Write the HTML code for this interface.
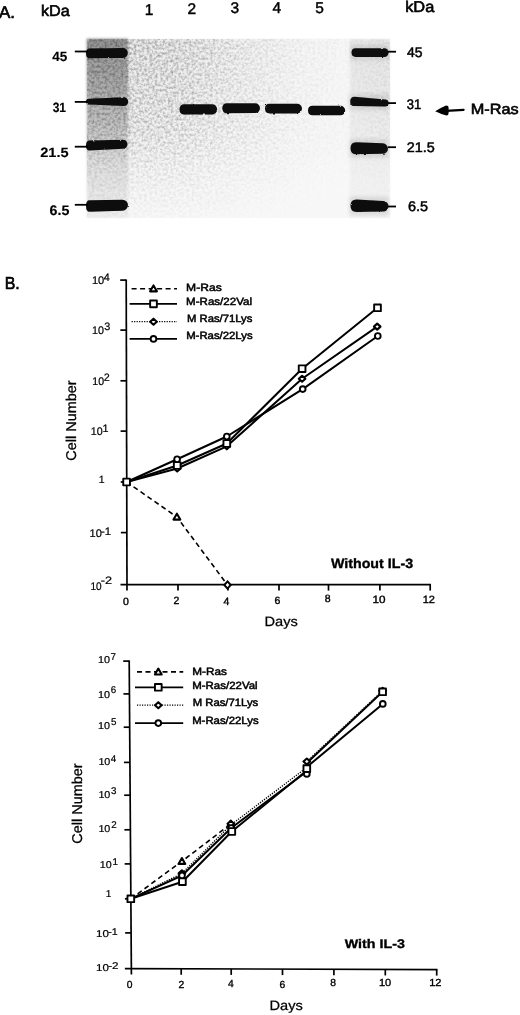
<!DOCTYPE html>
<html><head><meta charset="utf-8"><style>
html,body{margin:0;padding:0;background:#fff;}
body{width:520px;height:1015px;overflow:hidden;font-family:"Liberation Sans",sans-serif;}
svg{display:block;will-change:transform;}
text{text-rendering:geometricPrecision;}
</style></head><body>
<svg width="520" height="1015" viewBox="0 0 520 1015">
<defs>
<filter id="nz" x="0" y="0" width="100%" height="100%"><feTurbulence type="fractalNoise" baseFrequency="0.38" numOctaves="2" seed="11"/><feColorMatrix type="matrix" values="0 0 0 0 0  0 0 0 0 0  0 0 0 0 0  1.5 0 0 0 -0.55"/><feGaussianBlur stdDeviation="0.45"/></filter>
<linearGradient id="hm" x1="0" x2="1" y1="0" y2="0"><stop offset="0" stop-color="#fff" stop-opacity="1"/><stop offset="0.3" stop-color="#fff" stop-opacity="0.9"/><stop offset="0.5" stop-color="#fff" stop-opacity="0.5"/><stop offset="0.7" stop-color="#fff" stop-opacity="0.2"/><stop offset="0.85" stop-color="#fff" stop-opacity="0.1"/><stop offset="1" stop-color="#fff" stop-opacity="0.25"/></linearGradient>
<mask id="mk" maskUnits="userSpaceOnUse" x="86.5" y="38.5" width="303.5" height="179.5"><rect x="86.5" y="38.5" width="303.5" height="179.5" fill="url(#hm)"/></mask>
<linearGradient id="vg" x1="0" x2="0" y1="0" y2="1"><stop offset="0" stop-color="#000" stop-opacity="0.055"/><stop offset="0.45" stop-color="#000" stop-opacity="0.035"/><stop offset="0.7" stop-color="#000" stop-opacity="0.01"/><stop offset="1" stop-color="#000" stop-opacity="0.0"/></linearGradient>
<linearGradient id="vn" x1="0" x2="0" y1="0" y2="1"><stop offset="0" stop-color="#fff" stop-opacity="1"/><stop offset="0.5" stop-color="#fff" stop-opacity="0.8"/><stop offset="0.8" stop-color="#fff" stop-opacity="0.3"/><stop offset="1" stop-color="#fff" stop-opacity="0.1"/></linearGradient>
<mask id="mk2" maskUnits="userSpaceOnUse" x="86.5" y="38.5" width="303.5" height="179.5"><rect x="86.5" y="38.5" width="303.5" height="179.5" fill="url(#vn)"/></mask>
<linearGradient id="lm" x1="0" x2="0" y1="0" y2="1"><stop offset="0" stop-color="#000" stop-opacity="0.36"/><stop offset="0.25" stop-color="#000" stop-opacity="0.28"/><stop offset="0.5" stop-color="#000" stop-opacity="0.18"/><stop offset="0.7" stop-color="#000" stop-opacity="0.09"/><stop offset="1" stop-color="#000" stop-opacity="0.04"/></linearGradient>
<linearGradient id="rm" x1="0" x2="0" y1="0" y2="1"><stop offset="0" stop-color="#000" stop-opacity="0.06"/><stop offset="0.5" stop-color="#000" stop-opacity="0.04"/><stop offset="1" stop-color="#000" stop-opacity="0.02"/></linearGradient>
<filter id="bl" x="-20%" y="-20%" width="140%" height="140%"><feGaussianBlur stdDeviation="1.2"/></filter>
<filter id="bb" x="-10%" y="-50%" width="120%" height="200%"><feTurbulence type="fractalNoise" baseFrequency="0.3" numOctaves="2" seed="4" result="t"/><feDisplacementMap in="SourceGraphic" in2="t" scale="2.0" xChannelSelector="R" yChannelSelector="G" result="d"/><feGaussianBlur in="d" stdDeviation="0.75"/></filter><filter id="hb" x="-30%" y="-100%" width="160%" height="300%"><feGaussianBlur stdDeviation="2.2"/></filter>
</defs>
<rect x="86.5" y="38.5" width="303.5" height="179.5" fill="#f8f8f8"/>
<g mask="url(#mk)"><rect x="86.5" y="38.5" width="303.5" height="179.5" fill="url(#vg)"/></g>
<g filter="url(#bl)"><rect x="86.5" y="38.5" width="41.5" height="179.5" fill="url(#lm)"/>
<rect x="350" y="39.5" width="40" height="178.5" fill="url(#rm)"/></g>
<g mask="url(#mk)"><g mask="url(#mk2)"><rect x="86.5" y="38.5" width="303.5" height="179.5" filter="url(#nz)" opacity="0.5"/></g></g>
<rect x="350.5" y="45.300000000000004" width="38.10000000000002" height="14.6" fill="#000" opacity="0.10" filter="url(#hb)"/>
<rect x="349.2" y="94.5" width="39.400000000000034" height="15.4" fill="#000" opacity="0.10" filter="url(#hb)"/>
<rect x="349.5" y="139.39999999999998" width="38.5" height="18.0" fill="#000" opacity="0.10" filter="url(#hb)"/>
<rect x="349.5" y="196.7" width="39.0" height="18.5" fill="#000" opacity="0.10" filter="url(#hb)"/>
<path d="M89.5,48.6 L122.89999999999999,48.1 A4.9,4.9 0 0 1 122.89999999999999,57.9 L89.5,58.199999999999996 Q86.0,58.199999999999996 86.0,53.4 Q86.0,48.6 89.5,48.6 Z" fill="#0a0a0a" filter="url(#bb)"/>
<path d="M88.8,98.8 L123.79999999999998,97.19999999999999 A4.4,4.4 0 0 1 123.79999999999998,106.0 L88.8,104.39999999999999 Q86.0,104.39999999999999 86.0,101.6 Q86.0,98.8 88.8,98.8 Z" fill="#0a0a0a" filter="url(#bb)"/>
<path d="M89.5,140.6 L123.0,139.7 A4.5,4.5 0 0 1 123.0,148.7 L89.5,150.6 Q86.0,150.6 86.0,145.6 Q86.0,140.6 89.5,140.6 Z" fill="#0a0a0a" filter="url(#bb)"/>
<path d="M89.5,200.2 L122.5,199.7 A5.5,5.5 0 0 1 122.5,210.7 L89.5,211.8 Q86.0,211.8 86.0,206.0 Q86.0,200.2 89.5,200.2 Z" fill="#0a0a0a" filter="url(#bb)"/>
<path d="M355.585,48.300000000000004 L384.3,48.300000000000004 A4.3,4.3 0 0 1 384.3,56.9 L355.585,56.9 Q351.5,56.9 351.5,52.6 Q351.5,48.300000000000004 355.585,48.300000000000004 Z" fill="#0a0a0a" filter="url(#bb)"/>
<path d="M354.66499999999996,96.7 L385.1,99.5 A3.5,3.5 0 0 1 385.1,106.5 L354.66499999999996,106.10000000000001 Q350.2,106.10000000000001 350.2,101.4 Q350.2,96.7 354.66499999999996,96.7 Z" fill="#0a0a0a" filter="url(#bb)"/>
<path d="M356.2,142.2 L382.75,143.35 A5.25,5.25 0 0 1 382.75,153.85 L356.2,154.2 Q350.5,154.2 350.5,148.2 Q350.5,142.2 356.2,142.2 Z" fill="#0a0a0a" filter="url(#bb)"/>
<path d="M356.4375,199.45 L383.25,200.95 A5.25,5.25 0 0 1 383.25,211.45 L356.4375,211.95 Q350.5,211.95 350.5,205.7 Q350.5,199.45 356.4375,199.45 Z" fill="#0a0a0a" filter="url(#bb)"/>
<path d="M184.3925,104.25 L212.14999999999998,104.35000000000001 A5.05,5.05 0 0 1 212.14999999999998,114.45 L184.3925,114.55000000000001 Q179.5,114.55000000000001 179.5,109.4 Q179.5,104.25 184.3925,104.25 Z" fill="#0a0a0a" filter="url(#bb)"/>
<path d="M227.0025,103.25 L255.15,103.35000000000001 A4.85,4.85 0 0 1 255.15,113.05 L227.0025,113.15 Q222.3,113.15 222.3,108.2 Q222.3,103.25 227.0025,103.25 Z" fill="#0a0a0a" filter="url(#bb)"/>
<path d="M269.6075,103.75 L297.15,103.75 A4.85,4.85 0 0 1 297.15,113.44999999999999 L269.6075,113.44999999999999 Q265,113.44999999999999 265,108.6 Q265,103.75 269.6075,103.75 Z" fill="#0a0a0a" filter="url(#bb)"/>
<path d="M312.5125,105.65 L340.45,105.85 A4.75,4.75 0 0 1 340.45,115.35 L312.5125,115.15 Q308,115.15 308,110.4 Q308,105.65 312.5125,105.65 Z" fill="#0a0a0a" filter="url(#bb)"/>
<line x1="74.8" y1="51.5" x2="88" y2="51.5" stroke="#000" stroke-width="1.8"/>
<line x1="74.8" y1="101.9" x2="88" y2="101.9" stroke="#000" stroke-width="1.8"/>
<line x1="74.8" y1="146.7" x2="88" y2="146.7" stroke="#000" stroke-width="1.8"/>
<line x1="74.8" y1="204.8" x2="88" y2="204.8" stroke="#000" stroke-width="1.8"/>
<line x1="388" y1="51.7" x2="396" y2="51.7" stroke="#000" stroke-width="1.8"/>
<line x1="388" y1="103.1" x2="396" y2="103.1" stroke="#000" stroke-width="1.8"/>
<line x1="388" y1="147.2" x2="396" y2="147.2" stroke="#000" stroke-width="1.8"/>
<line x1="388" y1="206.5" x2="396" y2="206.5" stroke="#000" stroke-width="1.8"/>
<line x1="446" y1="110.9" x2="463.6" y2="109.9" stroke="#000" stroke-width="2.2" stroke-linecap="round"/>
<path d="M435.2 111.2 Q440 108.2 446 105.6 Q448.6 105.6 448.6 108 L448.6 113 Q448.6 115.6 446.5 115.6 Q440 113.6 435.2 111.2 Z" fill="#000"/>
<line x1="126.2" y1="279.5" x2="127.0" y2="590.6" stroke="#000" stroke-width="1.7"/>
<line x1="120.5" y1="584.6" x2="431.0" y2="584.6" stroke="#000" stroke-width="1.7"/>
<line x1="120.2015732546706" y1="280.1" x2="126.2015732546706" y2="280.1" stroke="#000" stroke-width="1.7"/>
<line x1="120.33267781055392" y1="330.1" x2="126.33267781055392" y2="330.1" stroke="#000" stroke-width="1.7"/>
<line x1="120.4656178302196" y1="380.8" x2="126.4656178302196" y2="380.8" stroke="#000" stroke-width="1.7"/>
<line x1="120.59750901343821" y1="431.1" x2="126.59750901343821" y2="431.1" stroke="#000" stroke-width="1.7"/>
<line x1="120.73097345132743" y1="482" x2="126.73097345132743" y2="482" stroke="#000" stroke-width="1.7"/>
<line x1="120.86365126188134" y1="532.6" x2="126.86365126188134" y2="532.6" stroke="#000" stroke-width="1.7"/>
<line x1="178" y1="584.6" x2="178" y2="590.6" stroke="#000" stroke-width="1.7"/>
<line x1="228" y1="584.6" x2="228" y2="590.6" stroke="#000" stroke-width="1.7"/>
<line x1="279" y1="584.6" x2="279" y2="590.6" stroke="#000" stroke-width="1.7"/>
<line x1="328.5" y1="584.6" x2="328.5" y2="590.6" stroke="#000" stroke-width="1.7"/>
<line x1="379.9" y1="584.6" x2="379.9" y2="590.6" stroke="#000" stroke-width="1.7"/>
<line x1="430.2" y1="584.6" x2="430.2" y2="590.6" stroke="#000" stroke-width="1.7"/>
<line x1="131.6" y1="288.75" x2="177" y2="288.75" stroke="#000" stroke-width="1.6" stroke-dasharray="5,3.5"/>
<path d="M153.5,285.45 L156.9,291.35 L150.1,291.35 Z" fill="#fff" stroke="#000" stroke-width="2.1" stroke-linejoin="round"/>
<line x1="129.6" y1="303.9" x2="177" y2="303.9" stroke="#000" stroke-width="1.8" />
<rect x="150.15" y="300.54999999999995" width="6.7" height="6.7" fill="#fff" stroke="#000" stroke-width="1.9" stroke-linejoin="round"/>
<line x1="131.6" y1="321.7" x2="177" y2="321.7" stroke="#000" stroke-width="1.3" stroke-dasharray="1.2,1.3"/>
<path d="M153.5,318.7 L156.8,321.7 L153.5,324.7 L150.2,321.7 Z" fill="#fff" stroke="#000" stroke-width="2.1" stroke-linejoin="round"/>
<line x1="129.6" y1="338.9" x2="177" y2="338.9" stroke="#000" stroke-width="1.8" />
<circle cx="153.5" cy="338.9" r="2.85" fill="#fff" stroke="#000" stroke-width="1.9"/>
<polyline points="126.6,482 176.9,517.0 227.5,585.0" fill="none" stroke="#000" stroke-width="1.6" stroke-dasharray="5,3.5" stroke-linejoin="round"/>
<polyline points="126.6,482 177.2,468.5 226.8,446.3 302.1,378.75 377.2,326.6" fill="none" stroke="#000" stroke-width="2.0"  stroke-linejoin="round"/>
<polyline points="126.6,482 177.2,465.5 226.8,443.5 302.1,368.7 377.5,307.8" fill="none" stroke="#000" stroke-width="2.0"  stroke-linejoin="round"/>
<polyline points="126.6,482 177.1,459.25 226.8,436.5 302.7,389.1 377.8,336.0" fill="none" stroke="#000" stroke-width="2.0"  stroke-linejoin="round"/>
<path d="M176.9,513.7 L180.3,519.6 L173.5,519.6 Z" fill="#fff" stroke="#000" stroke-width="2.1" stroke-linejoin="round"/>
<path d="M227.5,581.4 L230.7,585.0 L227.5,588.6 L224.3,585.0 Z" fill="#fff" stroke="#000" stroke-width="2"/>
<path d="M177.2,465.5 L180.5,468.5 L177.2,471.5 L173.89999999999998,468.5 Z" fill="#fff" stroke="#000" stroke-width="2.1" stroke-linejoin="round"/>
<path d="M226.8,443.3 L230.10000000000002,446.3 L226.8,449.3 L223.5,446.3 Z" fill="#fff" stroke="#000" stroke-width="2.1" stroke-linejoin="round"/>
<path d="M302.1,375.75 L305.40000000000003,378.75 L302.1,381.75 L298.8,378.75 Z" fill="#fff" stroke="#000" stroke-width="2.1" stroke-linejoin="round"/>
<path d="M377.2,323.6 L380.5,326.6 L377.2,329.6 L373.9,326.6 Z" fill="#fff" stroke="#000" stroke-width="2.1" stroke-linejoin="round"/>
<rect x="173.85" y="462.15" width="6.7" height="6.7" fill="#fff" stroke="#000" stroke-width="1.9" stroke-linejoin="round"/>
<rect x="223.45000000000002" y="440.15" width="6.7" height="6.7" fill="#fff" stroke="#000" stroke-width="1.9" stroke-linejoin="round"/>
<rect x="298.75" y="365.34999999999997" width="6.7" height="6.7" fill="#fff" stroke="#000" stroke-width="1.9" stroke-linejoin="round"/>
<rect x="374.15" y="304.45" width="6.7" height="6.7" fill="#fff" stroke="#000" stroke-width="1.9" stroke-linejoin="round"/>
<circle cx="177.1" cy="459.25" r="2.85" fill="#fff" stroke="#000" stroke-width="1.9"/>
<circle cx="226.8" cy="436.5" r="2.85" fill="#fff" stroke="#000" stroke-width="1.9"/>
<circle cx="302.7" cy="389.1" r="2.85" fill="#fff" stroke="#000" stroke-width="1.9"/>
<circle cx="377.8" cy="336.0" r="2.85" fill="#fff" stroke="#000" stroke-width="1.9"/>
<rect x="123.25" y="478.65" width="6.7" height="6.7" fill="#fff" stroke="#000" stroke-width="1.9" stroke-linejoin="round"/>
<line x1="129.2" y1="660.5" x2="131.4" y2="974.6" stroke="#000" stroke-width="1.7"/>
<line x1="124.9" y1="968.6" x2="437.5" y2="969.6" stroke="#000" stroke-width="1.7"/>
<line x1="123.20428432327165" y1="661.1" x2="129.20428432327165" y2="661.1" stroke="#000" stroke-width="1.7"/>
<line x1="123.43849399545601" y1="693.9" x2="129.438493995456" y2="693.9" stroke="#000" stroke-width="1.7"/>
<line x1="123.67627393703341" y1="727.2" x2="129.67627393703341" y2="727.2" stroke="#000" stroke-width="1.7"/>
<line x1="123.92762090230445" y1="762.4" x2="129.92762090230445" y2="762.4" stroke="#000" stroke-width="1.7"/>
<line x1="124.16183057448879" y1="795.2" x2="130.1618305744888" y2="795.2" stroke="#000" stroke-width="1.7"/>
<line x1="124.40889321648814" y1="829.8" x2="130.40889321648814" y2="829.8" stroke="#000" stroke-width="1.7"/>
<line x1="124.65238558909445" y1="863.9" x2="130.65238558909445" y2="863.9" stroke="#000" stroke-width="1.7"/>
<line x1="124.90159039272964" y1="898.8" x2="130.90159039272964" y2="898.8" stroke="#000" stroke-width="1.7"/>
<line x1="125.14508276533593" y1="932.9" x2="131.14508276533593" y2="932.9" stroke="#000" stroke-width="1.7"/>
<line x1="181.2" y1="968.7631182443498" x2="181.2" y2="974.7631182443498" stroke="#000" stroke-width="1.7"/>
<line x1="231.2" y1="968.9268915820504" x2="231.2" y2="974.9268915820504" stroke="#000" stroke-width="1.7"/>
<line x1="282.5" y1="969.0949230265313" x2="282.5" y2="975.0949230265313" stroke="#000" stroke-width="1.7"/>
<line x1="333.9" y1="969.2632820176875" x2="333.9" y2="975.2632820176875" stroke="#000" stroke-width="1.7"/>
<line x1="385.3" y1="969.4316410088438" x2="385.3" y2="975.4316410088438" stroke="#000" stroke-width="1.7"/>
<line x1="436.7" y1="969.6" x2="436.7" y2="975.6" stroke="#000" stroke-width="1.7"/>
<line x1="137.0" y1="671.9" x2="183.2" y2="671.9" stroke="#000" stroke-width="1.6" stroke-dasharray="5,3.5"/>
<path d="M158.3,668.6 L161.70000000000002,674.5 L154.9,674.5 Z" fill="#fff" stroke="#000" stroke-width="2.1" stroke-linejoin="round"/>
<line x1="135.0" y1="687.3" x2="183.2" y2="687.3" stroke="#000" stroke-width="1.8" />
<rect x="154.95000000000002" y="683.9499999999999" width="6.7" height="6.7" fill="#fff" stroke="#000" stroke-width="1.9" stroke-linejoin="round"/>
<line x1="137.0" y1="705.2" x2="183.2" y2="705.2" stroke="#000" stroke-width="1.3" stroke-dasharray="1.2,1.3"/>
<path d="M158.3,702.2 L161.60000000000002,705.2 L158.3,708.2 L155.0,705.2 Z" fill="#fff" stroke="#000" stroke-width="2.1" stroke-linejoin="round"/>
<line x1="135.0" y1="723.1" x2="183.2" y2="723.1" stroke="#000" stroke-width="1.8" />
<circle cx="158.3" cy="723.1" r="2.85" fill="#fff" stroke="#000" stroke-width="1.9"/>
<polyline points="130.8,898.8 181.9,861.3 230.8,824.0" fill="none" stroke="#000" stroke-width="1.6" stroke-dasharray="5,3.5" stroke-linejoin="round"/>
<polyline points="130.8,898.8 181.9,873.4 230.8,825.0 306.8,767.5 306.8,761.5 382.6,690.8" fill="none" stroke="#000" stroke-width="1.4" stroke-dasharray="1.2,1.3" stroke-linejoin="round"/>
<polyline points="130.8,898.8 182.0,875.5 231.2,828.0 306.8,771.5 306.8,767.0 382.8,703.9" fill="none" stroke="#000" stroke-width="2.0"  stroke-linejoin="round"/>
<polyline points="130.8,898.8 182.4,881.7 231.8,831.5 306.8,770.5 306.8,763.0 382.6,691.8" fill="none" stroke="#000" stroke-width="2.0"  stroke-linejoin="round"/>
<path d="M181.9,858.0 L185.3,863.9 L178.5,863.9 Z" fill="#fff" stroke="#000" stroke-width="2.1" stroke-linejoin="round"/>
<path d="M230.8,820.7 L234.20000000000002,826.6 L227.4,826.6 Z" fill="#fff" stroke="#000" stroke-width="2.1" stroke-linejoin="round"/>
<path d="M181.9,870.4 L185.20000000000002,873.4 L181.9,876.4 L178.6,873.4 Z" fill="#fff" stroke="#000" stroke-width="2.1" stroke-linejoin="round"/>
<path d="M230.8,820.8 L234.10000000000002,823.8 L230.8,826.8 L227.5,823.8 Z" fill="#fff" stroke="#000" stroke-width="2.1" stroke-linejoin="round"/>
<path d="M306.8,758.5 L310.1,761.5 L306.8,764.5 L303.5,761.5 Z" fill="#fff" stroke="#000" stroke-width="2.1" stroke-linejoin="round"/>
<path d="M382.6,687.8 L385.90000000000003,690.8 L382.6,693.8 L379.3,690.8 Z" fill="#fff" stroke="#000" stroke-width="2.1" stroke-linejoin="round"/>
<circle cx="182.0" cy="875.5" r="2.85" fill="#fff" stroke="#000" stroke-width="1.9"/>
<circle cx="231.2" cy="828.0" r="2.85" fill="#fff" stroke="#000" stroke-width="1.9"/>
<circle cx="306.8" cy="773.9" r="2.85" fill="#fff" stroke="#000" stroke-width="1.9"/>
<circle cx="382.8" cy="703.9" r="2.85" fill="#fff" stroke="#000" stroke-width="1.9"/>
<rect x="179.05" y="878.35" width="6.7" height="6.7" fill="#fff" stroke="#000" stroke-width="1.9" stroke-linejoin="round"/>
<rect x="228.45000000000002" y="828.15" width="6.7" height="6.7" fill="#fff" stroke="#000" stroke-width="1.9" stroke-linejoin="round"/>
<rect x="303.45" y="765.25" width="6.7" height="6.7" fill="#fff" stroke="#000" stroke-width="1.9" stroke-linejoin="round"/>
<rect x="379.25" y="688.4499999999999" width="6.7" height="6.7" fill="#fff" stroke="#000" stroke-width="1.9" stroke-linejoin="round"/>
<rect x="127.45000000000002" y="895.4499999999999" width="6.7" height="6.7" fill="#fff" stroke="#000" stroke-width="1.9" stroke-linejoin="round"/>
<g style='font-family:"Liberation Sans",sans-serif;' fill="#000">
<text id="A" x="-1.12" y="18.01" font-size="17.0" font-weight="normal" stroke="#000" stroke-width="0.65">A.</text>
<text id="kDaL" x="40.95" y="16.43" font-size="15.5" font-weight="normal" textLength="28.83" lengthAdjust="spacingAndGlyphs" stroke="#000" stroke-width="0.6">kDa</text>
<text id="kDaR" x="405.16" y="12.19" font-size="15.5" font-weight="normal" textLength="29.15" lengthAdjust="spacingAndGlyphs" stroke="#000" stroke-width="0.6">kDa</text>
<text id="n1" x="144.68" y="14.71" font-size="15.5" font-weight="normal" stroke="#000" stroke-width="0.45">1</text>
<text id="n2" x="187.55" y="14.21" font-size="15.5" font-weight="normal" stroke="#000" stroke-width="0.45">2</text>
<text id="n3" x="230.45" y="13.27" font-size="15.5" font-weight="normal" stroke="#000" stroke-width="0.45">3</text>
<text id="n4" x="272.61" y="13.46" font-size="15.5" font-weight="normal" stroke="#000" stroke-width="0.45">4</text>
<text id="n5" x="315.17" y="12.59" font-size="15.5" font-weight="normal" stroke="#000" stroke-width="0.45">5</text>
<text id="L45" x="52.23" y="60.63" font-size="13.5" font-weight="bold" textLength="15.06" lengthAdjust="spacingAndGlyphs" stroke="#000" stroke-width="0.15">45</text>
<text id="L31" x="52.66" y="111.75" font-size="13.5" font-weight="bold" textLength="13.44" lengthAdjust="spacingAndGlyphs" stroke="#000" stroke-width="0.15">31</text>
<text id="L21" x="40.19" y="156.71" font-size="13.5" font-weight="bold" textLength="28.38" lengthAdjust="spacingAndGlyphs" stroke="#000" stroke-width="0.15">21.5</text>
<text id="L6" x="49.52" y="214.65" font-size="13.8" font-weight="bold" textLength="19.81" lengthAdjust="spacingAndGlyphs" stroke="#000" stroke-width="0.15">6.5</text>
<text id="R45" x="407.02" y="56.57" font-size="14.0" font-weight="normal" textLength="15.51" lengthAdjust="spacingAndGlyphs" stroke="#000" stroke-width="0.5">45</text>
<text id="R31" x="406.69" y="108.50" font-size="14.0" font-weight="normal" textLength="14.44" lengthAdjust="spacingAndGlyphs" stroke="#000" stroke-width="0.5">31</text>
<text id="R21" x="406.66" y="152.30" font-size="14.0" font-weight="normal" textLength="28.01" lengthAdjust="spacingAndGlyphs" stroke="#000" stroke-width="0.5">21.5</text>
<text id="R6" x="407.97" y="210.62" font-size="14.0" font-weight="normal" textLength="20.10" lengthAdjust="spacingAndGlyphs" stroke="#000" stroke-width="0.5">6.5</text>
<text id="MRas" x="470.74" y="114.24" font-size="14.8" font-weight="normal" textLength="47.96" lengthAdjust="spacingAndGlyphs" stroke="#000" stroke-width="0.6">M-Ras</text>
<text id="c1l1" x="186.10" y="291.36" font-size="10.5" font-weight="normal" textLength="35.59" lengthAdjust="spacingAndGlyphs" stroke="#000" stroke-width="0.5">M-Ras</text>
<text id="c1l2" x="186.12" y="305.45" font-size="10.5" font-weight="normal" textLength="65.87" lengthAdjust="spacingAndGlyphs" stroke="#000" stroke-width="0.5">M-Ras/22Val</text>
<text id="c1l3" x="186.98" y="322.19" font-size="10.5" font-weight="normal" textLength="65.44" lengthAdjust="spacingAndGlyphs" stroke="#000" stroke-width="0.5">M Ras/71Lys</text>
<text id="c1l4" x="186.16" y="338.81" font-size="10.5" font-weight="normal" textLength="66.47" lengthAdjust="spacingAndGlyphs" stroke="#000" stroke-width="0.5">M-Ras/22Lys</text>
<text id="c1y4a" x="91.91" y="284.46" font-size="11.0" font-weight="normal" textLength="12.29" lengthAdjust="spacingAndGlyphs" stroke="#000" stroke-width="0.22">10</text>
<text id="c1y4b" x="103.83" y="281.14" font-size="10.8" font-weight="normal" stroke="#000" stroke-width="0.22">4</text>
<text id="c1y3a" x="92.02" y="333.69" font-size="11.0" font-weight="normal" textLength="11.92" lengthAdjust="spacingAndGlyphs" stroke="#000" stroke-width="0.22">10</text>
<text id="c1y3b" x="104.31" y="330.25" font-size="10.8" font-weight="normal" stroke="#000" stroke-width="0.22">3</text>
<text id="c1y2a" x="92.32" y="385.07" font-size="11.0" font-weight="normal" textLength="11.75" lengthAdjust="spacingAndGlyphs" stroke="#000" stroke-width="0.22">10</text>
<text id="c1y2b" x="103.85" y="381.07" font-size="10.8" font-weight="normal" stroke="#000" stroke-width="0.22">2</text>
<text id="c1y1a" x="90.80" y="435.31" font-size="11.0" font-weight="normal" textLength="11.90" lengthAdjust="spacingAndGlyphs" stroke="#000" stroke-width="0.22">10</text>
<text id="c1y1b" x="102.58" y="431.75" font-size="10.8" font-weight="normal" stroke="#000" stroke-width="0.22">1</text>
<text id="c1y0" x="98.80" y="483.04" font-size="10.5" font-weight="normal" stroke="#000" stroke-width="0.22">1</text>
<text id="c1ym1a" x="89.58" y="537.42" font-size="11.0" font-weight="normal" textLength="12.29" lengthAdjust="spacingAndGlyphs" stroke="#000" stroke-width="0.22">10</text>
<text id="c1ym1b" x="100.91" y="534.51" font-size="10.8" font-weight="normal" textLength="10.09" lengthAdjust="spacingAndGlyphs" stroke="#000" stroke-width="0.22">-1</text>
<text id="c1ym2a" x="90.54" y="589.52" font-size="11.0" font-weight="normal" textLength="11.19" lengthAdjust="spacingAndGlyphs" stroke="#000" stroke-width="0.22">10</text>
<text id="c1ym2b" x="100.67" y="584.36" font-size="10.8" font-weight="normal" textLength="11.31" lengthAdjust="spacingAndGlyphs" stroke="#000" stroke-width="0.22">-2</text>
<text id="c1x0" x="122.94" y="604.80" font-size="10.5" font-weight="normal" stroke="#000" stroke-width="0.4">0</text>
<text id="c1x2" x="173.54" y="603.95" font-size="10.5" font-weight="normal" stroke="#000" stroke-width="0.4">2</text>
<text id="c1x4" x="223.52" y="604.66" font-size="10.5" font-weight="normal" stroke="#000" stroke-width="0.4">4</text>
<text id="c1x6" x="274.54" y="603.84" font-size="10.5" font-weight="normal" stroke="#000" stroke-width="0.4">6</text>
<text id="c1x8" x="324.67" y="602.29" font-size="10.5" font-weight="normal" stroke="#000" stroke-width="0.4">8</text>
<text id="c1x10" x="372.63" y="603.00" font-size="10.5" font-weight="normal" textLength="13.00" lengthAdjust="spacingAndGlyphs" stroke="#000" stroke-width="0.4">10</text>
<text id="c1x12" x="422.72" y="603.30" font-size="10.5" font-weight="normal" textLength="12.24" lengthAdjust="spacingAndGlyphs" stroke="#000" stroke-width="0.4">12</text>
<text id="c1days" x="264.52" y="625.84" font-size="13.5" font-weight="normal" textLength="33.33" lengthAdjust="spacingAndGlyphs" stroke="#000" stroke-width="0.25">Days</text>
<text id="c1ttl" x="330.92" y="567.65" font-size="13.5" font-weight="bold" textLength="82.18" lengthAdjust="spacingAndGlyphs" stroke="#000" stroke-width="0.35">Without IL-3</text>
<text id="c1cn" transform="translate(75.68,460.71) rotate(-90)" font-size="14.2" font-weight="normal" textLength="80.34" lengthAdjust="spacingAndGlyphs" stroke="#000" stroke-width="0.3">Cell Number</text>
<text id="c2l1" x="192.24" y="674.61" font-size="10.5" font-weight="normal" textLength="34.65" lengthAdjust="spacingAndGlyphs" stroke="#000" stroke-width="0.5">M-Ras</text>
<text id="c2l2" x="192.23" y="688.97" font-size="10.5" font-weight="normal" textLength="65.41" lengthAdjust="spacingAndGlyphs" stroke="#000" stroke-width="0.5">M-Ras/22Val</text>
<text id="c2l3" x="192.74" y="706.38" font-size="10.5" font-weight="normal" textLength="65.51" lengthAdjust="spacingAndGlyphs" stroke="#000" stroke-width="0.5">M Ras/71Lys</text>
<text id="c2l4" x="192.16" y="724.09" font-size="10.5" font-weight="normal" textLength="66.47" lengthAdjust="spacingAndGlyphs" stroke="#000" stroke-width="0.5">M-Ras/22Lys</text>
<text id="c2y7a" x="97.95" y="663.25" font-size="10.0" font-weight="normal" textLength="12.00" lengthAdjust="spacingAndGlyphs" stroke="#000" stroke-width="0.22">10</text>
<text id="c2y7b" x="110.48" y="659.59" font-size="9.8" font-weight="normal" stroke="#000" stroke-width="0.22">7</text>
<text id="c2y6a" x="97.95" y="697.58" font-size="10.0" font-weight="normal" textLength="12.00" lengthAdjust="spacingAndGlyphs" stroke="#000" stroke-width="0.22">10</text>
<text id="c2y6b" x="110.75" y="692.50" font-size="9.8" font-weight="normal" stroke="#000" stroke-width="0.22">6</text>
<text id="c2y5a" x="97.95" y="729.35" font-size="10.0" font-weight="normal" textLength="12.00" lengthAdjust="spacingAndGlyphs" stroke="#000" stroke-width="0.22">10</text>
<text id="c2y5b" x="110.91" y="725.25" font-size="9.8" font-weight="normal" stroke="#000" stroke-width="0.22">5</text>
<text id="c2y4a" x="98.40" y="764.85" font-size="10.0" font-weight="normal" textLength="11.96" lengthAdjust="spacingAndGlyphs" stroke="#000" stroke-width="0.22">10</text>
<text id="c2y4b" x="110.85" y="761.80" font-size="9.8" font-weight="normal" stroke="#000" stroke-width="0.22">4</text>
<text id="c2y3a" x="98.40" y="798.48" font-size="10.0" font-weight="normal" textLength="11.96" lengthAdjust="spacingAndGlyphs" stroke="#000" stroke-width="0.22">10</text>
<text id="c2y3b" x="111.02" y="794.36" font-size="9.8" font-weight="normal" stroke="#000" stroke-width="0.22">3</text>
<text id="c2y2a" x="98.40" y="832.11" font-size="10.0" font-weight="normal" textLength="11.96" lengthAdjust="spacingAndGlyphs" stroke="#000" stroke-width="0.22">10</text>
<text id="c2y2b" x="111.15" y="827.94" font-size="9.8" font-weight="normal" stroke="#000" stroke-width="0.22">2</text>
<text id="c2y1a" x="99.88" y="867.65" font-size="10.0" font-weight="normal" textLength="11.90" lengthAdjust="spacingAndGlyphs" stroke="#000" stroke-width="0.22">10</text>
<text id="c2y1b" x="112.44" y="865.24" font-size="9.8" font-weight="normal" stroke="#000" stroke-width="0.22">1</text>
<text id="c2y0" x="105.63" y="897.36" font-size="10.0" font-weight="normal" stroke="#000" stroke-width="0.22">1</text>
<text id="c2ym1a" x="96.08" y="936.82" font-size="10.0" font-weight="normal" textLength="12.86" lengthAdjust="spacingAndGlyphs" stroke="#000" stroke-width="0.22">10</text>
<text id="c2ym1b" x="108.25" y="934.62" font-size="9.8" font-weight="normal" textLength="9.56" lengthAdjust="spacingAndGlyphs" stroke="#000" stroke-width="0.22">-1</text>
<text id="c2ym2a" x="96.08" y="971.19" font-size="10.0" font-weight="normal" textLength="12.86" lengthAdjust="spacingAndGlyphs" stroke="#000" stroke-width="0.22">10</text>
<text id="c2ym2b" x="108.24" y="968.54" font-size="9.8" font-weight="normal" textLength="10.32" lengthAdjust="spacingAndGlyphs" stroke="#000" stroke-width="0.22">-2</text>
<text id="c2x0" x="126.84" y="987.98" font-size="10.3" font-weight="normal" stroke="#000" stroke-width="0.35">0</text>
<text id="c2x2" x="178.41" y="988.13" font-size="10.3" font-weight="normal" stroke="#000" stroke-width="0.35">2</text>
<text id="c2x4" x="227.91" y="987.46" font-size="10.3" font-weight="normal" stroke="#000" stroke-width="0.35">4</text>
<text id="c2x6" x="279.58" y="988.28" font-size="10.3" font-weight="normal" stroke="#000" stroke-width="0.35">6</text>
<text id="c2x8" x="330.16" y="986.05" font-size="10.3" font-weight="normal" stroke="#000" stroke-width="0.35">8</text>
<text id="c2x10" x="378.95" y="986.48" font-size="10.3" font-weight="normal" textLength="12.35" lengthAdjust="spacingAndGlyphs" stroke="#000" stroke-width="0.35">10</text>
<text id="c2x12" x="429.22" y="986.19" font-size="10.3" font-weight="normal" textLength="12.32" lengthAdjust="spacingAndGlyphs" stroke="#000" stroke-width="0.35">12</text>
<text id="c2days" x="269.52" y="1009.64" font-size="13.5" font-weight="normal" textLength="33.33" lengthAdjust="spacingAndGlyphs" stroke="#000" stroke-width="0.25">Days</text>
<text id="c2ttl" x="344.72" y="948.31" font-size="12.5" font-weight="bold" textLength="60.13" lengthAdjust="spacingAndGlyphs" stroke="#000" stroke-width="0.35">With IL-3</text>
<text id="c2cn" transform="translate(81.97,843.75) rotate(-90)" font-size="14.2" font-weight="normal" textLength="80.38" lengthAdjust="spacingAndGlyphs" stroke="#000" stroke-width="0.3">Cell Number</text>
<text id="B" x="4.70" y="288.66" font-size="17.3" font-weight="normal" textLength="15.08" lengthAdjust="spacingAndGlyphs" stroke="#000" stroke-width="0.65">B.</text>
</g>
</svg>
</body></html>
